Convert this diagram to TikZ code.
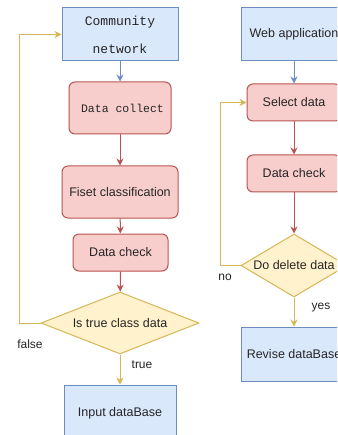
\documentclass[tikz,border=0pt]{standalone}
\usepackage{fontspec}
\setmainfont{Liberation Sans}
\setmonofont{Liberation Mono}
\usetikzlibrary{shapes.geometric,arrows.meta}
\definecolor{bluefill}{HTML}{DAE8FC}
\definecolor{bluedraw}{HTML}{6C8EBF}
\definecolor{redfill}{HTML}{F8CECC}
\definecolor{reddraw}{HTML}{B85450}
\definecolor{yelfill}{HTML}{FFF2CC}
\definecolor{yeldraw}{HTML}{D6B656}
\tikzset{
	bluebox/.style={draw=bluedraw, fill=bluefill, rectangle, inner sep=0pt, line width=1pt},
	redbox/.style={draw=reddraw, fill=redfill, rectangle, rounded corners=6pt, inner sep=0pt, line width=1pt},
	choice/.style={draw=yeldraw, fill=yelfill, diamond, inner sep=0pt, line width=1pt},
	barr/.style={draw=bluedraw, line width=1pt, -{Stealth[length=7pt,width=7pt]}},
	rarr/.style={draw=reddraw, line width=1pt, -{Stealth[length=7pt,width=7pt]}},
	yarr/.style={draw=yeldraw, line width=1pt, -{Stealth[length=7pt,width=7pt]}},
	lbl/.style={font=\fontsize{12}{14}\selectfont, text=black!85}
}

\begin{document}
\begin{tikzpicture}[x=1pt, y=-1pt, font=\fontsize{12.5}{15}\selectfont, text=black!85]
	%%%%% START %%%%%
	\clip (0, 0) rectangle (337, 435);
	\fill[white] (0, 0) rectangle (337, 435);
	
	% left column
	\node[bluebox, minimum width=116pt, minimum height=53pt, align=center,
		font=\ttfamily\fontsize{13}{28}\selectfont] (comm) at (120, 34.5) {Community\\network};
	\node[redbox, minimum width=102pt, minimum height=52pt,
		font=\ttfamily\fontsize{11.5}{14}\selectfont] (collect) at (120, 108) {\hspace{5pt}Data collect};
	\node[redbox, minimum width=116pt, minimum height=52pt] (classify) at (120, 192) {Fiset classification};
	\node[redbox, minimum width=95pt, minimum height=37pt] (checkl) at (120.5, 252.5) {Data check};
	\node[choice, minimum width=158pt, minimum height=62pt, aspect=2.55] (istrue) at (120, 323) {Is true class data};
	\node[bluebox, minimum width=112pt, minimum height=56pt] (inputdb) at (120, 413) {Input dataBase};
	
	\draw[barr] (comm) -- (collect);
	\draw[rarr] (collect) -- (classify);
	\draw[rarr] (classify) -- (checkl);
	\draw[rarr] (checkl) -- (istrue);
	\draw[yarr] (istrue) -- (inputdb);
	\draw[yarr] (istrue.west) -- ++(-21, 0) |- (comm.west);
	\node[lbl] (falselbl) at (30, 344) {false};
	\node[lbl] (truelbl) at (142, 365) {true};
	
	% right column
	\node[bluebox, minimum width=106pt, minimum height=53pt] (webapp) at (294, 34.5) {Web application};
	\node[redbox, minimum width=94pt, minimum height=37pt] (select) at (294, 102.5) {Select data};
	\node[redbox, minimum width=94pt, minimum height=37pt] (checkr) at (294, 173.5) {Data check};
	\node[choice, minimum width=106pt, minimum height=63pt, aspect=1.7] (dodel) at (294, 265.5) {Do delete data};
	\node[bluebox, minimum width=106pt, minimum height=54pt] (revise) at (294, 354) {Revise dataBase};
	
	\draw[barr] (webapp) -- (select);
	\draw[rarr] (select) -- (checkr);
	\draw[rarr] (checkr) -- (dodel);
	\draw[yarr] (dodel) -- (revise);
	\draw[yarr] (dodel.west) -- ++(-20, 0) |- (select.west);
	\node[lbl] (nolbl) at (225, 277) {no};
	\node[lbl] (yeslbl) at (321, 308) {yes};
	%%%%% END %%%%%
\end{tikzpicture}
\end{document}
